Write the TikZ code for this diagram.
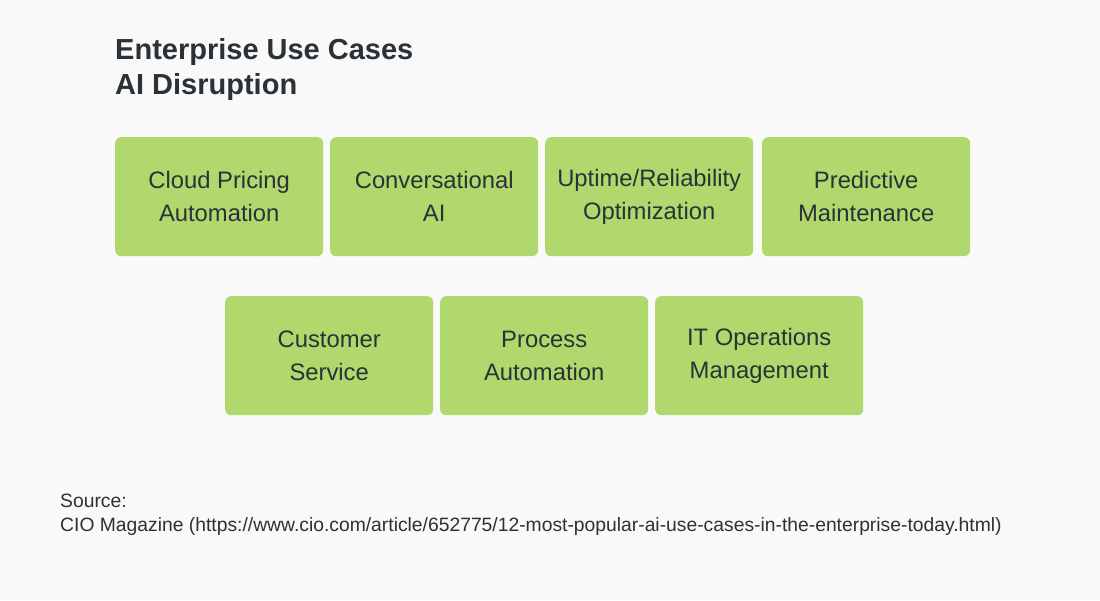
\documentclass[tikz,border=0pt]{standalone}
\usepackage{fontspec}
\setmainfont{Liberation Sans}
\begin{document}
\begin{tikzpicture}[x=1pt,y=-1pt,
  box/.style={fill=boxg, rounded corners=6pt, minimum width=208pt, minimum height=119pt, inner sep=0pt, align=center, text=txt, font=\fontsize{23.8}{33}\selectfont, anchor=north west},
  ]
\definecolor{boxg}{HTML}{B0D86C}
\definecolor{txt}{HTML}{2A3238}
\definecolor{bg}{HTML}{F9F9F9}
\fill[bg] (0,0) rectangle (1100,600);
\useasboundingbox (0,0) rectangle (1100,600);
\node[anchor=north west, inner sep=0pt, align=left, text=txt, font=\bfseries\fontsize{29}{35}\selectfont] (title) at (115,38) {Enterprise Use Cases\\AI Disruption};
\node[box] (b1) at (115,137) {Cloud Pricing\\Automation};
\node[box] (b2) at (330,137) {Conversational\\AI};
\node[box] (b3) at (545,137) {Uptime/Reliability\\Optimization};
\node[box] (b4) at (762,137) {Predictive\\Maintenance};
\node[box] (b5) at (225,296) {Customer\\Service};
\node[box] (b6) at (440,296) {Process\\Automation};
\node[box] (b7) at (655,296) {IT Operations\\Management};
\node[anchor=north west, inner sep=0pt, align=left, text=txt, font=\fontsize{19.3}{24}\selectfont] (src) at (60,494) {Source:\\CIO Magazine (https://www.cio.com/article/652775/12-most-popular-ai-use-cases-in-the-enterprise-today.html)};
\end{tikzpicture}
\end{document}
